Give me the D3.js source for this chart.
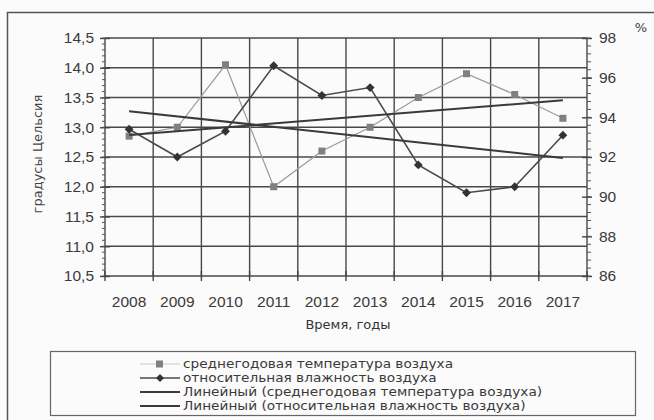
<!DOCTYPE html>
<html>
<head>
<meta charset="utf-8">
<script src="https://cdn.jsdelivr.net/npm/d3@7"></script>
<style>
  body { margin: 0; background: #fbfbfb; }
  svg { display: block; font-family: "DejaVu Sans", Arial, sans-serif; }
</style>
</head>
<body>
<svg></svg>
<script>
const width = 654;
const height = 420;

// data
var years = [2008, 2009, 2010, 2011, 2012, 2013, 2014, 2015, 2016, 2017];
var temperature = [12.85, 13.0, 14.05, 12.0, 12.6, 13.0, 13.5, 13.9, 13.55, 13.15];
var humidity = [93.4, 92.0, 93.3, 96.6, 95.1, 95.5, 91.6, 90.2, 90.5, 93.1];
var leftTicks = [10.5, 11.0, 11.5, 12.0, 12.5, 13.0, 13.5, 14.0, 14.5];
var rightTicks = [86, 88, 90, 92, 94, 96, 98];
var legendLabels = [
  "среднегодовая температура воздуха",
  "относительная влажность воздуха",
  "Линейный (среднегодовая температура воздуха)",
  "Линейный (относительная влажность воздуха)"
];

var svg = d3.select("svg").attr("width", width).attr("height", height);

var ru = d3.formatLocale({decimal: ",", thousands: " ", grouping: [3], currency: ["", ""]});
var fmt1 = ru.format(".1f");

var xScale = d3.scaleBand().domain(years).range([105, 587]);
var yLeft = d3.scaleLinear().domain([10.5, 14.5]).range([276, 38]);
var yRight = d3.scaleLinear().domain([86, 98]).range([276, 38]);
var cx = (d) => xScale(d) + xScale.bandwidth() / 2;

// outer frame
svg.append("rect")
  .attr("x", 7.5).attr("y", 12.5)
  .attr("width", 660).attr("height", 420)
  .attr("fill", "none").attr("stroke", "#555").attr("stroke-width", 1.5);

// grid
var grid = svg.append("g").attr("stroke", "#484848").attr("stroke-width", 1.4);
grid.selectAll(".hg")
  .data(leftTicks)
  .enter().append("line")
  .attr("x1", 105).attr("x2", 587)
  .attr("y1", d => yLeft(d)).attr("y2", d => yLeft(d));
var bounds = years.map(d => xScale(d)).concat([587]);
grid.selectAll(".vg")
  .data(bounds)
  .enter().append("line")
  .attr("x1", d => d).attr("x2", d => d)
  .attr("y1", 38).attr("y2", 276);

// left axis
var leftAxis = svg.append("g")
  .attr("transform", "translate(105,0)")
  .call(d3.axisLeft(yLeft).tickValues(leftTicks).tickFormat(fmt1).tickSize(5).tickPadding(8));
leftAxis.select(".domain").remove();
leftAxis.selectAll(".tick line").attr("x1", -5).attr("x2", 5).attr("stroke", "#444").attr("stroke-width", 1.4);
leftAxis.selectAll(".tick text").attr("font-size", 15.5).attr("fill", "#3a3a3a").attr("x", -11);

var minorL = d3.range(10.5, 14.51, 0.1);
svg.append("g").selectAll("line")
  .data(minorL).enter().append("line")
  .attr("x1", 102).attr("x2", 105)
  .attr("y1", d => yLeft(d)).attr("y2", d => yLeft(d))
  .attr("stroke", "#555").attr("stroke-width", 1);

// right axis
var rightAxis = svg.append("g")
  .attr("transform", "translate(587,0)")
  .call(d3.axisRight(yRight).tickValues(rightTicks).tickSize(5).tickPadding(8));
rightAxis.select(".domain").remove();
rightAxis.selectAll(".tick line").attr("x1", -5).attr("x2", 5).attr("stroke", "#444").attr("stroke-width", 1.4);
rightAxis.selectAll(".tick text").attr("font-size", 15.5).attr("fill", "#3a3a3a").attr("x", 12);

var minorR = d3.range(86, 98.01, 0.4);
svg.append("g").selectAll("line")
  .data(minorR).enter().append("line")
  .attr("x1", 587).attr("x2", 591)
  .attr("y1", d => yRight(d)).attr("y2", d => yRight(d))
  .attr("stroke", "#555").attr("stroke-width", 1);

// x axis
var xAxis = svg.append("g")
  .attr("transform", "translate(0,276)")
  .call(d3.axisBottom(xScale).tickSize(0).tickPadding(20));
xAxis.select(".domain").remove();
xAxis.selectAll(".tick text").attr("font-size", 15.5).attr("fill", "#3a3a3a");
svg.append("g").selectAll("line")
  .data(bounds).enter().append("line")
  .attr("x1", d => d).attr("x2", d => d)
  .attr("y1", 271).attr("y2", 281)
  .attr("stroke", "#444").attr("stroke-width", 1.4);

// axis titles
svg.append("text")
  .attr("transform", "translate(42,154) rotate(-90)")
  .attr("text-anchor", "middle")
  .attr("font-size", 13).attr("fill", "#444")
  .text("градусы Цельсия");
svg.append("text")
  .attr("x", 641).attr("y", 32)
  .attr("text-anchor", "middle")
  .attr("font-size", 13).attr("fill", "#444")
  .text("%");
svg.append("text")
  .attr("x", 348).attr("y", 329)
  .attr("text-anchor", "middle")
  .attr("font-size", 13).attr("fill", "#333")
  .text("Время, годы");

// trend lines (least squares)
function trend(vals) {
  var n = vals.length;
  var mx = (n - 1) / 2;
  var my = d3.mean(vals);
  var sxy = d3.sum(vals, (v, i) => (i - mx) * (v - my));
  var sxx = d3.sum(vals, (v, i) => (i - mx) * (i - mx));
  var b = sxy / sxx;
  return [my - b * mx, my + b * (n - 1 - mx)];
}
var tT = trend(temperature);
var tH = trend(humidity);

// temperature series
var lineT = d3.line().x((d, i) => cx(years[i])).y(d => yLeft(d));
svg.append("path")
  .attr("d", lineT(temperature))
  .attr("fill", "none").attr("stroke", "#9a9a9a").attr("stroke-width", 1.2);
svg.append("g").selectAll("rect")
  .data(temperature).enter().append("rect")
  .attr("x", (d, i) => cx(years[i]) - 3.5)
  .attr("y", d => yLeft(d) - 3.5)
  .attr("width", 7).attr("height", 7)
  .attr("fill", "#808080");

// humidity series
var lineH = d3.line().x((d, i) => cx(years[i])).y(d => yRight(d));
svg.append("path")
  .attr("d", lineH(humidity))
  .attr("fill", "none").attr("stroke", "#4a4a4a").attr("stroke-width", 1.6);
svg.append("g").selectAll("path")
  .data(humidity).enter().append("path")
  .attr("d", d3.symbol(d3.symbolDiamond2, 50))
  .attr("transform", (d, i) => "translate(" + cx(years[i]) + "," + yRight(d) + ")")
  .attr("fill", "#333");

svg.append("line")
  .attr("x1", cx(years[0])).attr("x2", cx(years[years.length - 1]))
  .attr("y1", yLeft(tT[0])).attr("y2", yLeft(tT[1]))
  .attr("stroke", "#3a3a3a").attr("stroke-width", 2);
svg.append("line")
  .attr("x1", cx(years[0])).attr("x2", cx(years[years.length - 1]))
  .attr("y1", yRight(tH[0])).attr("y2", yRight(tH[1]))
  .attr("stroke", "#3a3a3a").attr("stroke-width", 2);

// legend
var legend = svg.append("g");
legend.append("rect")
  .attr("x", 50.5).attr("y", 351.5)
  .attr("width", 585).attr("height", 64)
  .attr("fill", "none").attr("stroke", "#666").attr("stroke-width", 1.2);

var rowY = (i) => 364 + i * 14;
var items = legend.selectAll(".item")
  .data(legendLabels).enter().append("g")
  .attr("transform", (d, i) => "translate(0," + rowY(i) + ")");
// text a bit wide, like the scan
items.append("text")
  .attr("transform", "translate(183,4.2) scale(1.16,1)")
  .attr("font-size", 11.8).attr("fill", "#3a3a3a")
  .text(d => d);

items.filter((d, i) => i === 0).append("line")
  .attr("x1", 140).attr("x2", 180).attr("y1", 0).attr("y2", 0)
  .attr("stroke", "#c8c8c8").attr("stroke-width", 1);
items.filter((d, i) => i === 0).append("rect")
  .attr("x", 156).attr("y", -3.5).attr("width", 7).attr("height", 7)
  .attr("fill", "#808080");
items.filter((d, i) => i === 1).append("line")
  .attr("x1", 140).attr("x2", 180).attr("y1", 0).attr("y2", 0)
  .attr("stroke", "#4a4a4a").attr("stroke-width", 1.4);
items.filter((d, i) => i === 1).append("path")
  .attr("d", d3.symbol(d3.symbolDiamond2, 40))
  .attr("transform", "translate(160,0)")
  .attr("fill", "#333");
items.filter((d, i) => i >= 2).append("line")
  .attr("x1", 140).attr("x2", 180).attr("y1", 0).attr("y2", 0)
  .attr("stroke", "#3a3a3a").attr("stroke-width", 2);
</script>
</body>
</html>
